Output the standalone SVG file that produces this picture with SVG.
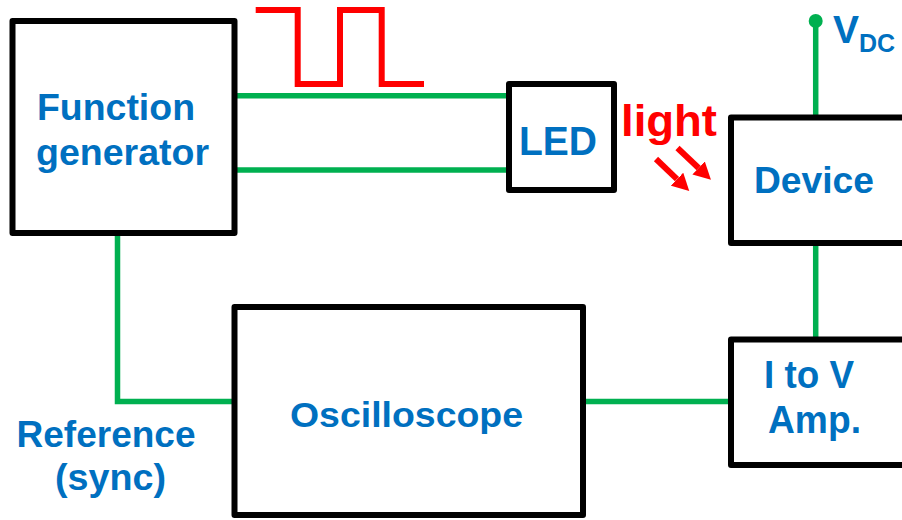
<svg xmlns="http://www.w3.org/2000/svg" width="902" height="520" viewBox="0 0 902 520">
<style>
.box{fill:#fff;stroke:#000;stroke-width:6;stroke-linejoin:round}
.wire{fill:none;stroke:#00B050;stroke-width:5.5}
.lbl{font-family:"Liberation Sans",Arial,sans-serif;font-weight:bold;fill:#0070C0}
.red{font-family:"Liberation Sans",Arial,sans-serif;font-weight:bold;fill:#FF0000}
.ray{stroke:#FF0000;stroke-width:6;fill:none}
</style>
<defs>
<marker id="ah" markerUnits="userSpaceOnUse" viewBox="0 0 17 18" markerWidth="17" markerHeight="18" refX="0" refY="9" orient="auto">
<path d="M0,0 L17,9 L0,18 z" fill="#FF0000"/>
</marker>
</defs>
<rect width="902" height="520" fill="#fff"/>
<g id="connectors">
<path class="wire" d="M234,95.7 H509"/>
<path class="wire" d="M234,170 H509"/>
<path class="wire" d="M117.5,233 V401.5 H234"/>
<path class="wire" d="M583,401.5 H731"/>
<path class="wire" d="M815.7,21 V117.5"/>
<path class="wire" d="M815.7,243 V339.5"/>
<circle cx="815.7" cy="21" r="7" fill="#00B050"/>
</g>
<g id="square-wave">
<path d="M255.7,10 H297.7 V84 H340 V10 H381.7 V84 H424" fill="none" stroke="#FF0000" stroke-width="6"/>
</g>
<g id="function-generator">
<rect class="box" x="12.5" y="21" width="222" height="212"/>
<text class="lbl" x="37" y="120" font-size="36" textLength="158" lengthAdjust="spacingAndGlyphs">Function</text>
<text class="lbl" x="36" y="165" font-size="36" textLength="173" lengthAdjust="spacingAndGlyphs">generator</text>
</g>
<g id="led">
<rect class="box" x="509" y="84" width="105" height="106"/>
<text class="lbl" x="519" y="155" font-size="41" textLength="78" lengthAdjust="spacingAndGlyphs">LED</text>
</g>
<g id="light">
<text class="red" x="621" y="136" font-size="44" textLength="96" lengthAdjust="spacingAndGlyphs">light</text>
<line class="ray" x1="656" y1="159" x2="677" y2="179.2" marker-end="url(#ah)"/>
<line class="ray" x1="677.5" y1="148" x2="698.6" y2="168" marker-end="url(#ah)"/>
</g>
<g id="device">
<rect class="box" x="731" y="117.5" width="200" height="125.5"/>
<text class="lbl" x="754" y="192.7" font-size="37" textLength="120" lengthAdjust="spacingAndGlyphs">Device</text>
</g>
<g id="vdc">
<text class="lbl" x="833" y="43.3" font-size="39">V<tspan font-size="25" dy="8.4">DC</tspan></text>
</g>
<g id="i-to-v-amp">
<rect class="box" x="731" y="339.5" width="200" height="125.5"/>
<text class="lbl" x="764" y="387.7" font-size="38" textLength="90" lengthAdjust="spacingAndGlyphs">I to V</text>
<text class="lbl" x="768" y="432.7" font-size="38" textLength="93" lengthAdjust="spacingAndGlyphs">Amp.</text>
</g>
<g id="oscilloscope">
<rect class="box" x="234.5" y="307" width="348.5" height="208"/>
<text class="lbl" x="290" y="427" font-size="35" textLength="233" lengthAdjust="spacingAndGlyphs">Oscilloscope</text>
</g>
<g id="reference-label">
<text class="lbl" x="16.5" y="446.7" font-size="36" textLength="179" lengthAdjust="spacingAndGlyphs">Reference</text>
<text class="lbl" x="55" y="490" font-size="36" textLength="111" lengthAdjust="spacingAndGlyphs">(sync)</text>
</g>
</svg>
